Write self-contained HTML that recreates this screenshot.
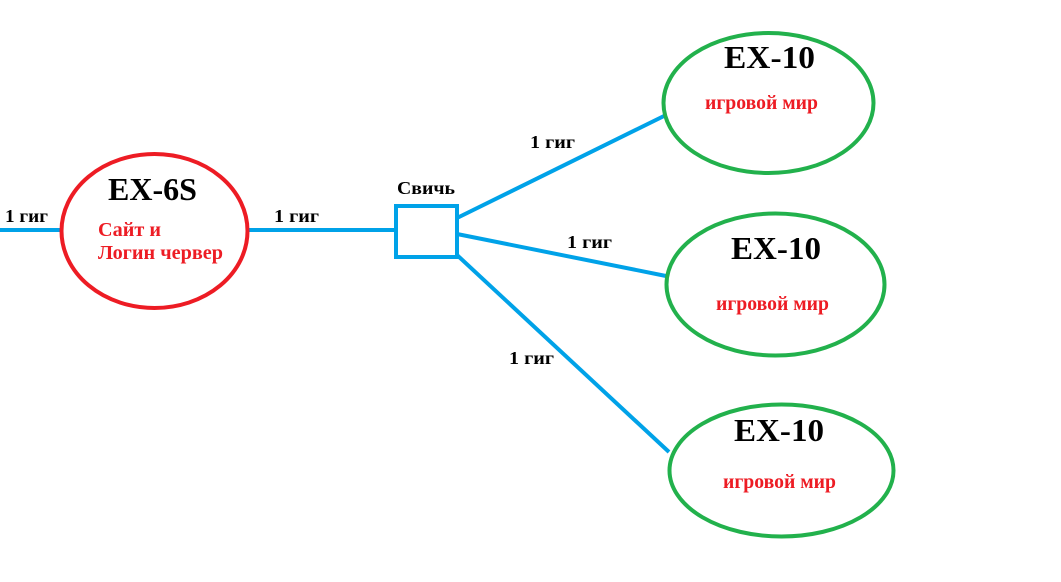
<!DOCTYPE html>
<html><head><meta charset="utf-8">
<style>
html,body{margin:0;padding:0;background:#fff;}
svg{display:block;}
text{font-family:"Liberation Serif","DejaVu Serif",serif;font-weight:bold;}
.s{font-size:18px;fill:#000;}
.t{font-size:32px;fill:#000;}
.r{font-size:20px;fill:#ed1c24;}
</style></head><body>
<svg width="1061" height="582" viewBox="0 0 1061 582" xmlns="http://www.w3.org/2000/svg">
<g stroke="#00a2e8" stroke-width="4" fill="none">
<line x1="0" y1="230" x2="60" y2="230"/>
<line x1="249" y1="230" x2="396" y2="230"/>
<rect x="396" y="206" width="61" height="51"/>
<line x1="457" y1="218" x2="666" y2="115"/>
<line x1="457" y1="234" x2="666" y2="276"/>
<line x1="457" y1="255" x2="669" y2="452"/>
</g>
<ellipse cx="154.5" cy="231" rx="93" ry="77" fill="none" stroke="#ed1c24" stroke-width="4"/>
<g fill="none" stroke="#22b14c" stroke-width="4">
<ellipse cx="768.5" cy="103" rx="105" ry="70"/>
<ellipse cx="775.5" cy="284.5" rx="109" ry="71"/>
<ellipse cx="781.5" cy="470.5" rx="112" ry="66"/>
</g>
<text class="s" x="5" y="222" textLength="43" lengthAdjust="spacingAndGlyphs">1 гиг</text>
<text class="s" x="274" y="222" textLength="45" lengthAdjust="spacingAndGlyphs">1 гиг</text>
<text class="s" x="397" y="194" textLength="58" lengthAdjust="spacingAndGlyphs">Свичь</text>
<text class="s" x="530" y="148" textLength="45" lengthAdjust="spacingAndGlyphs">1 гиг</text>
<text class="s" x="567" y="248" textLength="45" lengthAdjust="spacingAndGlyphs">1 гиг</text>
<text class="s" x="509" y="364" textLength="45" lengthAdjust="spacingAndGlyphs">1 гиг</text>
<text class="t" x="108" y="200" textLength="89" lengthAdjust="spacingAndGlyphs">EX-6S</text>
<text class="r" x="98" y="236" textLength="63" lengthAdjust="spacingAndGlyphs">Сайт и</text>
<text class="r" x="98" y="259" textLength="125" lengthAdjust="spacingAndGlyphs">Логин червер</text>
<text class="t" x="724" y="68" textLength="91" lengthAdjust="spacingAndGlyphs">EX-10</text>
<text class="r" x="705" y="109" textLength="113" lengthAdjust="spacingAndGlyphs">игровой мир</text>
<text class="t" x="731" y="259" textLength="90" lengthAdjust="spacingAndGlyphs">EX-10</text>
<text class="r" x="716" y="310" textLength="113" lengthAdjust="spacingAndGlyphs">игровой мир</text>
<text class="t" x="734" y="441" textLength="90" lengthAdjust="spacingAndGlyphs">EX-10</text>
<text class="r" x="723" y="488" textLength="113" lengthAdjust="spacingAndGlyphs">игровой мир</text>
</svg>
</body></html>
